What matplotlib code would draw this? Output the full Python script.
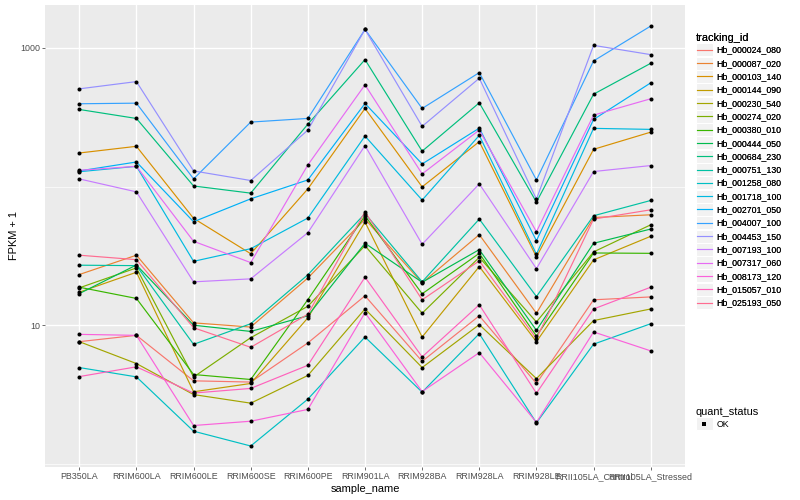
import matplotlib
matplotlib.use("Agg")
import matplotlib.pyplot as plt
from matplotlib.legend_handler import HandlerBase
from matplotlib.patches import Rectangle
from matplotlib.lines import Line2D
from matplotlib.ticker import FixedLocator, FixedFormatter, NullFormatter

plt.rcParams['font.family'] = ['Liberation Sans', 'DejaVu Sans']

samples = ["PB350LA", "RRIM600LA", "RRIM600LE", "RRIM600SE", "RRIM600PE",
           "RRIM901LA", "RRIM928BA", "RRIM928LA", "RRIM928LE",
           "RRII105LA_Control", "RRII105LA_Stressed"]

tracking_ids = ["Hb_000024_080", "Hb_000087_020", "Hb_000103_140", "Hb_000144_090",
                "Hb_000230_540", "Hb_000274_020", "Hb_000380_010", "Hb_000444_050",
                "Hb_000684_230", "Hb_000751_130", "Hb_001258_080", "Hb_001718_100",
                "Hb_002701_050", "Hb_004007_100", "Hb_004453_150", "Hb_007193_100",
                "Hb_007317_060", "Hb_008173_120", "Hb_015057_010", "Hb_025193_050"]

# FPKM + 1 values, one list per tracking_id (order of samples)
hb_000024_080 = [7.61, 8.45, 3.97, 3.89, 7.45, 16.3, 5.49, 11.7, 3.80, 15.25, 16.0]
hb_000087_020 = [23.2, 32.0, 10.4, 9.70, 21.9, 58.3, 20.2, 45.0, 12.2, 59.8, 62.6]
hb_000103_140 = [174.7, 195.2, 59.0, 32.8, 96.3, 366, 99.5, 211, 31.1, 185.7, 247]
hb_000144_090 = [17.3, 24.1, 3.31, 3.80, 11.3, 55.5, 8.22, 26.5, 7.61, 29.6, 43.8]
hb_000230_540 = [7.61, 5.29, 3.16, 2.74, 4.34, 13.1, 4.95, 10.1, 4.12, 10.8, 13.1]
hb_000274_020 = [18.6, 25.9, 4.23, 8.13, 13.7, 37.5, 12.2, 30.9, 10.55, 33.8, 53.0]
hb_000380_010 = [18.8, 15.6, 4.41, 4.06, 15.3, 61.6, 16.85, 33.0, 8.36, 33.2, 33.0]
hb_000444_050 = [16.9, 27.2, 10.0, 9.02, 11.7, 39.0, 20.4, 35.1, 9.18, 39.0, 49.4]
hb_000684_230 = [360, 310, 101, 89.7, 282, 824, 180, 402, 77.3, 464, 775]
hb_000751_130 = [27.1, 26.9, 7.28, 10.25, 23.1, 63.9, 20.55, 58.3, 16.1, 61.6, 79.4]
hb_001258_080 = [4.95, 4.24, 1.72, 1.345, 2.93, 8.22, 3.29, 8.69, 1.975, 7.30, 10.25]
hb_001718_100 = [128, 140, 28.9, 35.65, 59.3, 231.5, 79.9, 234, 32.5, 263, 258.6]
hb_002701_050 = [129.7, 150.5, 55.75, 81.6, 111.7, 397.7, 145.6, 264, 40.7, 305, 560]
hb_004007_100 = [395.8, 399.7, 113.6, 291.9, 310.2, 1360, 366, 664, 111.7, 806, 1439]
hb_004453_150 = [507, 572, 129.7, 110.6, 255.7, 1360, 271.8, 604.6, 81.2, 1044, 895]
hb_007193_100 = [113.6, 91.6, 20.55, 21.6, 46.5, 197.5, 38.35, 104.6, 25.6, 128.4, 141.8]
hb_007317_060 = [131, 140, 40.3, 28.3, 143.2, 542, 123.4, 255.7, 47.2, 327.7, 430]
hb_008173_120 = [8.59, 8.45, 1.89, 2.03, 2.47, 12.3, 3.32, 6.34, 1.99, 8.94, 6.53]
hb_015057_010 = [4.26, 5.01, 3.24, 3.50, 5.14, 22.2, 5.91, 14.04, 3.23, 13.1, 18.8]
hb_025193_050 = [32.0, 29.7, 9.59, 6.93, 12.0, 65.8, 15.25, 29.1, 8.0, 58.3, 68.0]

series = [hb_000024_080, hb_000087_020, hb_000103_140, hb_000144_090, hb_000230_540,
          hb_000274_020, hb_000380_010, hb_000444_050, hb_000684_230, hb_000751_130,
          hb_001258_080, hb_001718_100, hb_002701_050, hb_004007_100, hb_004453_150,
          hb_007193_100, hb_007317_060, hb_008173_120, hb_015057_010, hb_025193_050]

colors = ["#F8766D", "#EA8331", "#D89000", "#C09B00", "#A3A500", "#7CAE00", "#39B600",
          "#00BB4E", "#00BF7D", "#00C1A3", "#00BFC4", "#00BAE0", "#00B0F6", "#35A2FF",
          "#9590FF", "#C77CFF", "#E76BF3", "#FA62DB", "#FF62BC", "#FF6C91"]

fig = plt.figure(figsize=(8, 5), dpi=100)
ax = fig.add_axes([45 / 800, 33 / 500, 640 / 800, 462 / 500])
ax.set_facecolor("#EBEBEB")
for s in ax.spines.values():
    s.set_visible(False)

x = list(range(1, len(samples) + 1))
for vals, c in zip(series, colors):
    ax.plot(x, vals, color=c, lw=0.85, zorder=2, solid_capstyle='butt')
for vals in series:
    ax.plot(x, vals, ls='none', marker='o', markersize=2.9, color='black',
            markeredgewidth=0, zorder=3)

ax.set_yscale('log')
ax.set_xlim(0.4, 11.6)
ax.set_ylim(0.949, 2041)
ax.set_xticks(x)
ax.set_xticklabels(samples)
ax.yaxis.set_major_locator(FixedLocator([10, 1000]))
ax.yaxis.set_major_formatter(FixedFormatter(["10", "1000"]))
ax.yaxis.set_minor_locator(FixedLocator([1, 100]))
ax.yaxis.set_minor_formatter(NullFormatter())
ax.set_axisbelow(True)
ax.grid(which='major', color='white', lw=1.0)
ax.grid(which='minor', axis='y', color='white', lw=0.5)
ax.tick_params(which='major', length=2.0, width=0.5, color='#333333',
               labelsize=6.4, labelcolor='#4D4D4D', pad=1.5)
ax.tick_params(which='minor', length=0)

ax.set_xlabel("sample_name", fontsize=7.9, labelpad=2)
ax.set_ylabel("FPKM + 1", fontsize=7.9, labelpad=1)


class LineKey(HandlerBase):
    def create_artists(self, legend, orig, xd, yd, w, h, fs, trans):
        r = Rectangle((-xd, -yd), w, h, facecolor='#F2F2F2', edgecolor='white',
                      lw=0.8, transform=trans)
        ln = Line2D([-xd + 0.06 * w, -xd + 0.94 * w], [-yd + h / 2] * 2,
                    color=orig.get_color(), lw=0.85, transform=trans)
        return [r, ln]


class PointKey(HandlerBase):
    def create_artists(self, legend, orig, xd, yd, w, h, fs, trans):
        r = Rectangle((-xd, -yd), w, h, facecolor='#F2F2F2', edgecolor='white',
                      lw=0.8, transform=trans)
        p = Line2D([-xd + w / 2], [-yd + h / 2], ls='none', marker='s',
                   markersize=2.6, color='black', markeredgewidth=0, transform=trans)
        return [r, p]


handles = [Line2D([], [], color=c) for c in colors]
leg1 = fig.legend(handles, tracking_ids, loc='upper left',
                  bbox_to_anchor=(696 / 800, 1 - 33 / 500), frameon=False,
                  title="tracking_id", title_fontsize=7.9, fontsize=6.3,
                  handlelength=1.9, handleheight=1.9, labelspacing=0.04,
                  handletextpad=0.45, borderpad=0, borderaxespad=0,
                  alignment='left', handler_map={Line2D: LineKey()})
fig.add_artist(leg1)

pt = Line2D([], [], ls='none', marker='s', color='black')
leg2 = fig.legend([pt], ["OK"], loc='upper left',
                  bbox_to_anchor=(696 / 800, 1 - 407 / 500), frameon=False,
                  title="quant_status", title_fontsize=7.9, fontsize=6.3,
                  handlelength=1.9, handleheight=1.9, labelspacing=0.04,
                  handletextpad=0.45, borderpad=0, borderaxespad=0,
                  alignment='left', handler_map={Line2D: PointKey()})

fig.savefig("out.png", dpi=100, facecolor='white')
